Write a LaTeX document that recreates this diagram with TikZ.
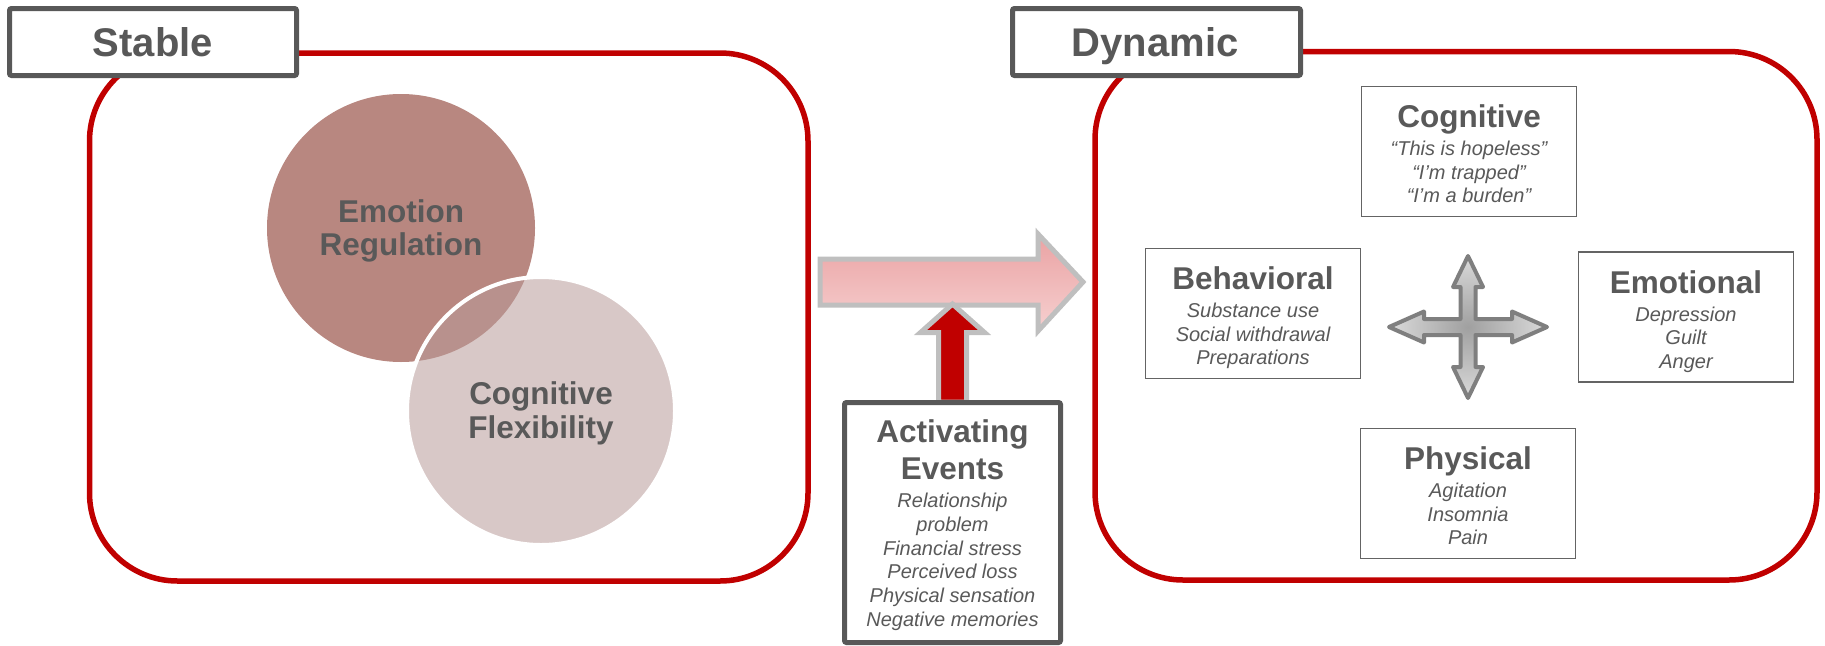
\documentclass[tikz,border=0pt]{standalone}
\usepackage{fontspec}
\setmainfont{Liberation Sans}
\definecolor{frameRed}{RGB}{192,0,0}
\definecolor{tagGray}{RGB}{88,88,88}
\definecolor{txtGray}{RGB}{89,89,89}
\definecolor{boxGray}{RGB}{100,100,100}
\definecolor{emoFill}{RGB}{184,135,128}
\definecolor{cogFill}{RGB}{184,155,153}
\definecolor{arrGray}{RGB}{191,191,191}
\definecolor{pinkTop}{RGB}{234,162,163}
\definecolor{pinkBot}{RGB}{246,208,208}
\definecolor{crossLine}{RGB}{127,127,127}
\definecolor{crossIn}{RGB}{160,160,160}
\definecolor{crossOut}{RGB}{218,218,218}
\tikzset{
  redframe/.style={draw=frameRed, line width=5.5pt, rounded corners=88pt},
  tagbox/.style={draw=tagGray, line width=5pt, fill=white, rounded corners=2pt, inner sep=0pt},
  catbox/.style={draw=boxGray, line width=1.6pt, fill=white, minimum width=215pt, minimum height=130pt, inner sep=0pt},
  ttl/.style={anchor=base, text=txtGray, font=\fontsize{31.5}{36}\selectfont\bfseries, inner sep=0pt},
  itl/.style={anchor=base, text=txtGray, font=\fontsize{20}{24}\selectfont\itshape, inner sep=0pt},
  tagtxt/.style={anchor=base, text=tagGray, font=\fontsize{40}{46}\selectfont\bfseries, inner sep=0pt},
  blob/.style={circle, minimum size=268pt, inner sep=0pt},
}
\begin{document}
\begin{tikzpicture}[x=1pt,y=-1pt]
\useasboundingbox (0,0) rectangle (1825,645);

% red frames
\draw[redframe] (89.5,53) rectangle (808,581);
\draw[redframe] (1095,51.5) rectangle (1817,580);

% circles
\node[blob, fill=emoFill] (emo) at (401,228) {};
\node[blob, fill=cogFill, fill opacity=0.55, draw=white, line width=4pt] (flex) at (541,411) {};
\node[ttl] (emoT1) at (401,222) {Emotion};
\node[ttl] (emoT2) at (401,255) {Regulation};
\node[ttl] (flexT1) at (541,404.5) {Cognitive};
\node[ttl] (flexT2) at (541,438) {Flexibility};

% tag boxes
\node[tagbox, minimum width=287pt, minimum height=67pt] (stable) at (153,42) {};
\node[tagtxt] (stableT) at (153,56.5) {Stable};
\node[tagbox, minimum width=288pt, minimum height=67pt] (dynamic) at (1156.5,42) {};
\node[tagtxt] (dynamicT) at (1155,56) {Dynamic};

% big pink arrow
\draw[draw=arrGray, line width=5pt, miter limit=10, top color=pinkTop, bottom color=pinkBot]
  (820,259) -- (1038,259) -- (1038,234) -- (1083,282) -- (1038,331) -- (1038,305) -- (820,305) -- cycle;

% red up arrow
\draw[draw=arrGray, line width=5pt, fill=frameRed, miter limit=10]
  (938.5,402) -- (938.5,332.5) -- (920.5,332.5) -- (952.5,304) -- (984.5,332.5) -- (966.5,332.5) -- (966.5,402) -- cycle;

% activating events box
\node[tagbox, minimum width=216pt, minimum height=240pt] (act) at (952.5,522.5) {};
\node[ttl] (actT1) at ([yshift=-42.5pt]act.north) {Activating};
\node[ttl] (actT2) at ([yshift=-79.5pt]act.north) {Events};
\node[itl] (act1) at ([yshift=-107.5pt]act.north) {Relationship};
\node[itl] (act2) at ([yshift=-131.3pt]act.north) {problem};
\node[itl] (act3) at ([yshift=-155.1pt]act.north) {Financial stress};
\node[itl] (act4) at ([yshift=-178.9pt]act.north) {Perceived loss};
\node[itl] (act5) at ([yshift=-202.7pt]act.north) {Physical sensation};
\node[itl] (act6) at ([yshift=-226.5pt]act.north) {Negative memories};

% dynamic category boxes
\node[catbox] (cog) at (1469,151.5) {};
\node[ttl] (cogT) at ([yshift=-42pt]cog.north) {Cognitive};
\node[itl] (cog1) at ([yshift=-70pt]cog.north) {“This is hopeless”};
\node[itl] (cog2) at ([yshift=-93.5pt]cog.north) {“I’m trapped”};
\node[itl] (cog3) at ([yshift=-117pt]cog.north) {“I’m a burden”};

\node[catbox] (beh) at (1253,313.5) {};
\node[ttl] (behT) at ([yshift=-42pt]beh.north) {Behavioral};
\node[itl] (beh1) at ([yshift=-70pt]beh.north) {Substance use};
\node[itl] (beh2) at ([yshift=-93.5pt]beh.north) {Social withdrawal};
\node[itl] (beh3) at ([yshift=-117pt]beh.north) {Preparations};

\node[catbox] (emot) at (1686,317) {};
\node[ttl] (emotT) at ([yshift=-42pt]emot.north) {Emotional};
\node[itl] (emot1) at ([yshift=-70pt]emot.north) {Depression};
\node[itl] (emot2) at ([yshift=-93.5pt]emot.north) {Guilt};
\node[itl] (emot3) at ([yshift=-117pt]emot.north) {Anger};

\node[catbox] (phys) at (1468,493.5) {};
\node[ttl] (physT) at ([yshift=-42pt]phys.north) {Physical};
\node[itl] (phys1) at ([yshift=-70pt]phys.north) {Agitation};
\node[itl] (phys2) at ([yshift=-93.5pt]phys.north) {Insomnia};
\node[itl] (phys3) at ([yshift=-117pt]phys.north) {Pain};

% four-way arrow
\begin{scope}[shift={(1468,327)}]
\draw[draw=crossLine, line width=4pt, line join=round, inner color=crossIn, outer color=crossOut]
  (0,-71) -- (15,-40) -- (7.5,-40) -- (7.5,-8) -- (44,-8) -- (44,-15.5) -- (79,0) -- (44,15.5) -- (44,8)
  -- (7.5,8) -- (7.5,40) -- (15,40) -- (0,71) -- (-15,40) -- (-7.5,40) -- (-7.5,8) -- (-44,8)
  -- (-44,15.5) -- (-79,0) -- (-44,-15.5) -- (-44,-8) -- (-7.5,-8) -- (-7.5,-40) -- (-15,-40) -- cycle;
\end{scope}
\end{tikzpicture}
\end{document}
